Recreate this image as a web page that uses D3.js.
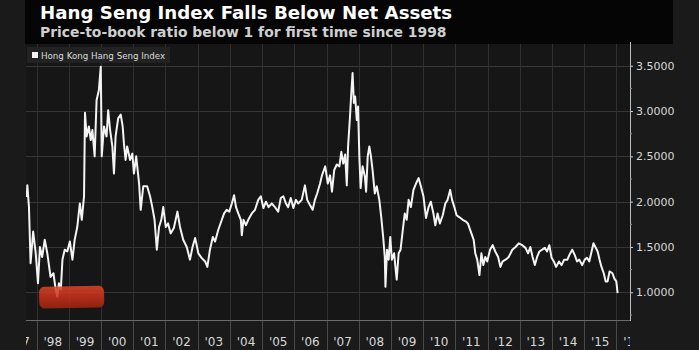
<!DOCTYPE html>
<html>
<head>
<meta charset="utf-8">
<script src="https://cdn.jsdelivr.net/npm/d3@7"></script>
<style>
body{margin:0;background:#1a1a1a;}
svg{display:block;font-family:"DejaVu Sans",sans-serif;}
</style>
</head>
<body>
<div id="chart"></div>
<script>
// decimal years + price-to-book values
var years = [
 1997.69,1997.71,1997.76,1997.81,1997.89,1997.97,1998.04,1998.10,1998.17,1998.25,1998.33,1998.43,1998.52,1998.59,1998.64,1998.69,1998.75,1998.80,1998.87,1998.95,
 1999.03,1999.11,1999.18,1999.26,1999.34,1999.40,1999.47,1999.50,1999.55,1999.62,1999.68,1999.73,1999.80,1999.86,1999.93,1999.99,
 2000.02,2000.09,2000.17,2000.22,2000.28,2000.35,2000.40,2000.45,2000.53,2000.61,2000.67,2000.71,2000.76,2000.81,2000.90,2000.97,
 2001.02,2001.09,2001.18,2001.23,2001.31,2001.43,2001.52,2001.59,2001.66,2001.73,2001.80,2001.87,2001.93,
 2002.01,2002.08,2002.16,2002.26,2002.37,2002.45,2002.55,2002.66,2002.76,2002.84,2002.92,
 2003.02,2003.12,2003.23,2003.30,2003.38,2003.47,2003.54,2003.64,2003.75,2003.82,2003.90,2003.98,
 2004.06,2004.13,2004.19,2004.26,2004.34,2004.37,2004.42,2004.50,2004.57,2004.68,2004.78,2004.88,2004.96,
 2005.04,2005.12,2005.20,2005.30,2005.40,2005.50,2005.58,2005.66,2005.74,2005.81,2005.89,2005.97,
 2006.05,2006.12,2006.23,2006.33,2006.40,2006.49,2006.57,2006.64,2006.71,2006.80,2006.86,2006.96,
 2007.04,2007.11,2007.17,2007.24,2007.32,2007.40,2007.46,2007.52,2007.58,2007.63,2007.67,2007.73,2007.77,2007.81,2007.85,2007.89,2007.94,2007.98,
 2008.02,2008.06,2008.12,2008.19,2008.23,2008.28,2008.33,2008.38,2008.43,2008.50,2008.56,2008.64,2008.70,2008.76,2008.81,2008.83,2008.88,2008.93,2008.98,
 2009.03,2009.10,2009.14,2009.18,2009.24,2009.30,2009.37,2009.43,2009.49,2009.55,2009.62,2009.70,2009.78,2009.86,2009.93,
 2010.01,2010.09,2010.17,2010.24,2010.32,2010.38,2010.45,2010.52,2010.61,2010.69,2010.76,2010.84,2010.90,2010.97,
 2011.04,2011.12,2011.23,2011.33,2011.39,2011.50,2011.57,2011.62,2011.68,2011.75,2011.81,2011.87,2011.93,2011.99,
 2012.08,2012.16,2012.24,2012.33,2012.40,2012.47,2012.56,2012.66,2012.77,2012.87,2012.97,
 2013.08,2013.18,2013.26,2013.33,2013.40,2013.47,2013.54,2013.61,2013.70,2013.78,2013.85,2013.92,2013.99,
 2014.06,2014.13,2014.22,2014.30,2014.38,2014.48,2014.54,2014.63,2014.71,2014.78,2014.85,2014.94,
 2015.02,2015.09,2015.16,2015.22,2015.29,2015.35,2015.42,2015.48,2015.54,2015.61,2015.67,2015.73,2015.79,2015.88,2015.94,
 2016.00,2016.04
];
var pb = [
 2.05,2.18,1.94,1.32,1.67,1.43,1.10,1.50,1.39,1.58,1.43,1.17,1.21,1.03,0.95,1.10,1.03,1.36,1.47,1.45,
 1.56,1.36,1.58,1.72,1.98,1.80,2.06,2.98,2.72,2.83,2.68,2.79,2.50,3.12,3.23,3.49,
 2.50,2.83,2.72,3.01,2.79,2.61,2.31,2.72,2.92,2.96,2.83,2.64,2.46,2.61,2.46,2.53,
 2.31,2.50,2.20,1.91,2.17,2.17,2.06,1.94,1.80,1.47,1.72,1.80,1.94,
 1.72,1.76,1.65,1.71,1.89,1.72,1.58,1.50,1.36,1.50,1.60,
 1.43,1.38,1.34,1.28,1.47,1.61,1.56,1.69,1.80,1.87,1.91,1.89,
 1.98,2.07,1.94,1.87,1.80,1.63,1.80,1.74,1.80,1.87,1.91,2.02,2.06,
 1.93,2.00,1.94,1.98,1.94,1.89,2.04,2.06,1.98,1.94,2.04,1.93,
 2.02,1.98,2.02,2.18,2.02,1.96,1.91,2.02,2.09,2.20,2.29,2.39,
 2.20,2.29,2.11,2.35,2.41,2.39,2.55,2.42,2.52,2.18,2.61,2.94,3.20,3.42,3.09,3.16,2.90,3.05,
 2.50,2.15,2.39,2.28,2.11,2.50,2.61,2.50,2.35,2.09,2.17,2.02,1.83,1.61,1.39,1.06,1.47,1.36,1.61,
 1.36,1.43,1.28,1.14,1.43,1.47,1.69,1.87,1.80,2.02,1.94,2.13,2.20,2.26,2.17,
 2.06,1.82,1.94,2.00,1.87,1.74,1.87,1.76,1.85,1.98,2.02,2.13,2.02,1.94,
 1.85,1.83,1.80,1.78,1.76,1.65,1.58,1.43,1.36,1.19,1.43,1.30,1.39,1.34,
 1.47,1.52,1.45,1.39,1.28,1.34,1.36,1.39,1.47,1.50,1.54,
 1.52,1.49,1.43,1.50,1.39,1.30,1.39,1.45,1.47,1.49,1.45,1.52,1.38,
 1.34,1.28,1.34,1.30,1.36,1.36,1.41,1.47,1.41,1.34,1.36,1.30,
 1.36,1.38,1.34,1.43,1.54,1.50,1.45,1.36,1.28,1.21,1.12,1.12,1.23,1.21,1.15,
 1.12,0.99
];
var yearStarts = d3.range(1997, 2017);
var yearLabels = ["'97","'98","'99","'00","'01","'02","'03","'04","'05","'06","'07","'08","'09","'10","'11","'12","'13","'14","'15","'16"];
var yTicks = [1.0, 1.5, 2.0, 2.5, 3.0, 3.5];
var yMinor = [0.75, 1.25, 1.75, 2.25, 2.75, 3.25];

var W = 699, H = 350;
var pLeft = 26, pRight = 630, pTop = 44, pBottom = 320;

var svg = d3.select("#chart").append("svg")
  .attr("width", W).attr("height", H);

svg.append("rect").attr("width", W).attr("height", H).attr("fill", "#1a1a1a");
// title band
svg.append("rect").attr("x", 25).attr("y", 0).attr("width", 648).attr("height", pTop).attr("fill", "#050505");
svg.append("rect").attr("x", pLeft).attr("y", pTop).attr("width", pRight - pLeft).attr("height", pBottom - pTop).attr("fill", "#161616");

var x = d3.scaleLinear().domain([1997.668, 2016.425]).range([pLeft, pRight]);
var y = d3.scaleLinear().domain([0.694, 3.74]).range([pBottom, pTop]);

var defs = svg.append("defs");
defs.append("clipPath").attr("id", "plotclip")
  .append("rect").attr("x", pLeft).attr("y", pTop).attr("width", pRight - pLeft).attr("height", H - pTop);

// horizontal grid
svg.append("g").selectAll("line").data(yTicks).enter().append("line")
  .attr("x1", pLeft).attr("x2", pRight)
  .attr("y1", function(d){ return Math.round(y(d)) + 0.5; }).attr("y2", function(d){ return Math.round(y(d)) + 0.5; })
  .attr("stroke", "#363636").attr("stroke-width", 1);

// vertical grid at year starts, running down through the label row
var vg = svg.append("g").attr("clip-path", "url(#plotclip)");
vg.selectAll("line.in").data(yearStarts).enter().append("line")
  .attr("class", "in")
  .attr("x1", function(d){ return Math.round(x(d)) + 0.5; }).attr("x2", function(d){ return Math.round(x(d)) + 0.5; })
  .attr("y1", pTop).attr("y2", pBottom)
  .attr("stroke", "#303030");
vg.selectAll("line.out").data(yearStarts).enter().append("line")
  .attr("class", "out")
  .attr("x1", function(d){ return Math.round(x(d)) + 0.5; }).attr("x2", function(d){ return Math.round(x(d)) + 0.5; })
  .attr("y1", pBottom).attr("y2", H)
  .attr("stroke", "#4a4a4a");

// x axis line
svg.append("line").attr("x1", pLeft).attr("x2", pRight).attr("y1", pBottom + 0.5).attr("y2", pBottom + 0.5)
  .attr("stroke", "#6a6a6a");

// year labels centred in each year
vg.selectAll("text").data(yearStarts).enter().append("text")
  .attr("x", function(d){ return x(d + 0.5); })
  .attr("y", 346)
  .attr("text-anchor", "middle")
  .attr("fill", "#d8d8d8")
  .style("font-size", "12px")
  .text(function(d, i){ return yearLabels[i]; });

// red highlight brush
var grad = defs.append("linearGradient").attr("id", "brush")
  .attr("x1", 0).attr("y1", 0).attr("x2", 0).attr("y2", 1);
grad.append("stop").attr("offset", "0%").attr("stop-color", "#dc4428");
grad.append("stop").attr("offset", "50%").attr("stop-color", "#c9301a");
grad.append("stop").attr("offset", "100%").attr("stop-color", "#a0240f");

// price-to-book line
var line = d3.line()
  .x(function(d){ return x(d[0]); })
  .y(function(d){ return y(d[1]); });
var series = d3.zip(years, pb);
svg.append("path").datum(series)
  .attr("clip-path", "url(#plotclip)")
  .attr("fill", "none")
  .attr("stroke", "#f4f4f4")
  .attr("stroke-width", 2)
  .attr("stroke-linejoin", "round")
  .attr("d", line);

var bx0 = x(1998.07), bx1 = x(2000.09), by0 = y(1.06), by1 = y(0.82);
svg.append("rect")
  .attr("x", bx0).attr("y", by0)
  .attr("width", bx1 - bx0).attr("height", by1 - by0)
  .attr("rx", 5).attr("ry", 6)
  .attr("fill", "url(#brush)")
  .attr("opacity", 0.86)
  .attr("transform", "rotate(-1," + bx0 + "," + by0 + ")");

// right axis
var yAxis = svg.append("g").attr("transform", "translate(" + pRight + ",0)")
  .call(d3.axisRight(y).tickValues(yTicks).tickSize(3).tickPadding(3).tickFormat(d3.format(".4f")));
yAxis.select(".domain").remove();
yAxis.selectAll(".tick line").attr("stroke", "#cfcfcf");
yAxis.selectAll(".tick text").attr("fill", "#d8d8d8").style("font-size", "11px").style("font-family", "DejaVu Sans");
svg.append("line").attr("x1", pRight + 0.5).attr("x2", pRight + 0.5).attr("y1", pTop - 2).attr("y2", pBottom + 1)
  .attr("stroke", "#bdbdbd");
svg.append("g").selectAll("line").data(yMinor).enter().append("line")
  .attr("x1", pRight).attr("x2", pRight + 2)
  .attr("y1", function(d){ return y(d); }).attr("y2", function(d){ return y(d); })
  .attr("stroke", "#8a8a8a");

// legend
svg.append("rect").attr("x", 27).attr("y", 47).attr("width", 143).attr("height", 16).attr("fill", "#222");
svg.append("rect").attr("x", 32).attr("y", 52).attr("width", 6).attr("height", 6).attr("fill", "#f2f2f2");
svg.append("text").attr("x", 41).attr("y", 59).attr("fill", "#dcdcdc").style("font-size", "8.7px")
  .text("Hong Kong Hang Seng Index");

// titles
svg.append("text").attr("x", 40).attr("y", 19).attr("fill", "#ffffff")
  .style("font-size", "18.2px").style("font-weight", "bold")
  .text("Hang Seng Index Falls Below Net Assets");
svg.append("text").attr("x", 40).attr("y", 37).attr("fill", "#cfcfcf")
  .style("font-size", "13.9px").style("font-weight", "bold")
  .text("Price-to-book ratio below 1 for first time since 1998");
</script>
</body>
</html>
